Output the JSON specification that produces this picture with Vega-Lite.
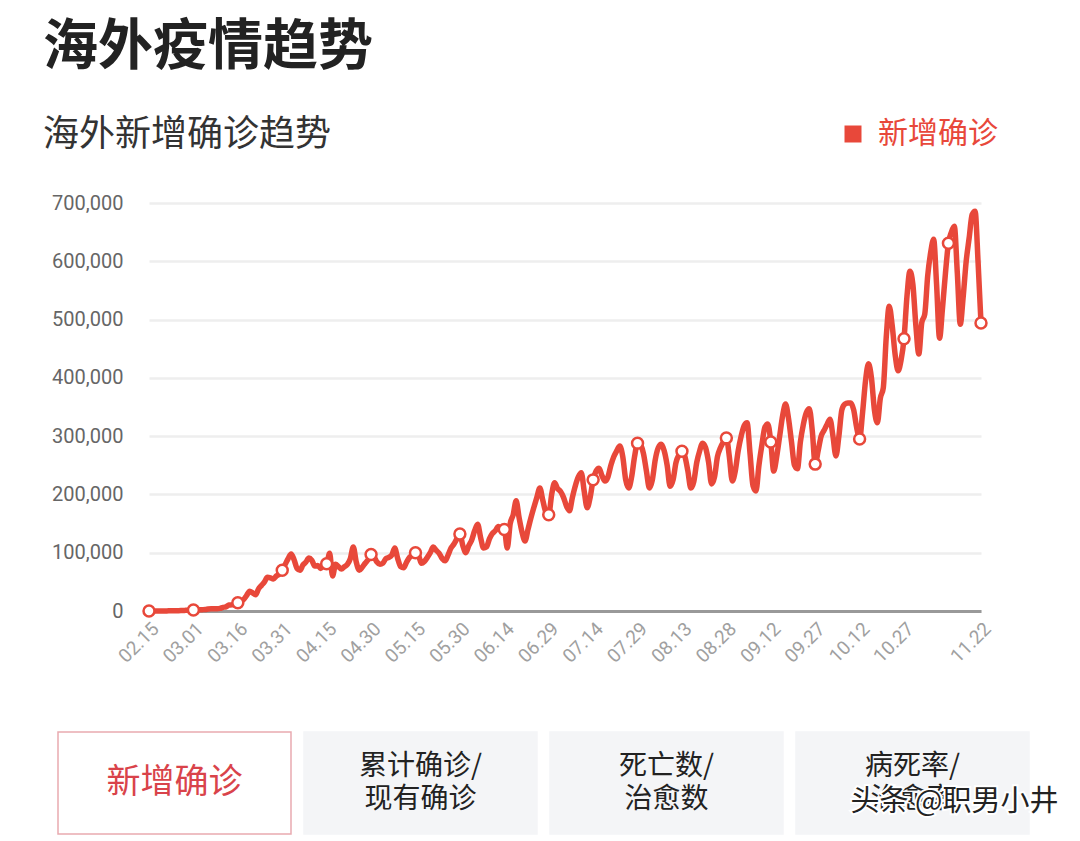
{
  "$schema": "https://vega.github.io/schema/vega-lite/v6.json",
  "background": "white",
  "padding": {"left": 43, "top": 20, "right": 0, "bottom": 0},
  "autosize": {"type": "pad"},
  "title": {
    "text": "海外疫情趋势",
    "subtitle": "海外新增确诊趋势",
    "anchor": "start",
    "frame": "bounds",
    "font": "Noto Sans CJK SC",
    "fontSize": 55,
    "fontWeight": "bold",
    "color": "#222222",
    "subtitleFont": "Noto Sans CJK SC",
    "subtitleFontSize": 36,
    "subtitleColor": "#333333",
    "subtitleFontWeight": "normal",
    "subtitlePadding": 42,
    "offset": -35,
    "dx": -4
  },
  "datasets": {
    "cases": [
      {"date":"2020-02-15","cases":60},{"date":"2020-02-16","cases":80},{"date":"2020-02-17","cases":70},{"date":"2020-02-18","cases":110},{"date":"2020-02-19","cases":120},{"date":"2020-02-20","cases":150},{"date":"2020-02-21","cases":210},{"date":"2020-02-22","cases":290},{"date":"2020-02-23","cases":380},{"date":"2020-02-24","cases":420},{"date":"2020-02-25","cases":560},{"date":"2020-02-26","cases":780},{"date":"2020-02-27","cases":980},{"date":"2020-02-28","cases":1250},{"date":"2020-02-29","cases":1300},
      {"date":"2020-03-01","cases":1600},{"date":"2020-03-02","cases":1800},{"date":"2020-03-03","cases":2100},{"date":"2020-03-04","cases":2300},{"date":"2020-03-05","cases":2600},{"date":"2020-03-06","cases":3500},{"date":"2020-03-07","cases":3900},{"date":"2020-03-08","cases":3800},{"date":"2020-03-09","cases":3900},{"date":"2020-03-10","cases":4600},{"date":"2020-03-11","cases":6300},{"date":"2020-03-12","cases":7200},{"date":"2020-03-13","cases":10200},{"date":"2020-03-14","cases":10500},{"date":"2020-03-15","cases":11500},{"date":"2020-03-16","cases":14000},{"date":"2020-03-17","cases":16500},{"date":"2020-03-18","cases":20000},{"date":"2020-03-19","cases":27000},{"date":"2020-03-20","cases":34000},{"date":"2020-03-21","cases":31000},{"date":"2020-03-22","cases":28000},{"date":"2020-03-23","cases":38000},{"date":"2020-03-24","cases":44000},{"date":"2020-03-25","cases":50000},{"date":"2020-03-26","cases":58000},{"date":"2020-03-27","cases":57000},{"date":"2020-03-28","cases":55000},{"date":"2020-03-29","cases":60000},{"date":"2020-03-30","cases":63000},{"date":"2020-03-31","cases":70000},
      {"date":"2020-04-01","cases":80000},{"date":"2020-04-02","cases":90000},{"date":"2020-04-03","cases":98000},{"date":"2020-04-04","cases":88000},{"date":"2020-04-05","cases":73000},{"date":"2020-04-06","cases":70000},{"date":"2020-04-07","cases":79000},{"date":"2020-04-08","cases":84000},{"date":"2020-04-09","cases":91000},{"date":"2020-04-10","cases":87000},{"date":"2020-04-11","cases":77000},{"date":"2020-04-12","cases":78000},{"date":"2020-04-13","cases":73000},{"date":"2020-04-14","cases":79000},{"date":"2020-04-15","cases":81000},{"date":"2020-04-16","cases":99000},{"date":"2020-04-17","cases":60000},{"date":"2020-04-18","cases":80000},{"date":"2020-04-19","cases":76000},{"date":"2020-04-20","cases":72000},{"date":"2020-04-21","cases":76000},{"date":"2020-04-22","cases":80000},{"date":"2020-04-23","cases":90000},{"date":"2020-04-24","cases":110000},{"date":"2020-04-25","cases":84000},{"date":"2020-04-26","cases":70000},{"date":"2020-04-27","cases":75000},{"date":"2020-04-28","cases":82000},{"date":"2020-04-29","cases":88000},{"date":"2020-04-30","cases":97000},
      {"date":"2020-05-01","cases":93000},{"date":"2020-05-02","cases":84000},{"date":"2020-05-03","cases":80000},{"date":"2020-05-04","cases":82000},{"date":"2020-05-05","cases":90000},{"date":"2020-05-06","cases":92000},{"date":"2020-05-07","cases":96000},{"date":"2020-05-08","cases":108000},{"date":"2020-05-09","cases":90000},{"date":"2020-05-10","cases":76000},{"date":"2020-05-11","cases":74000},{"date":"2020-05-12","cases":84000},{"date":"2020-05-13","cases":92000},{"date":"2020-05-14","cases":96000},{"date":"2020-05-15","cases":100000},{"date":"2020-05-16","cases":96000},{"date":"2020-05-17","cases":82000},{"date":"2020-05-18","cases":85000},{"date":"2020-05-19","cases":92000},{"date":"2020-05-20","cases":100000},{"date":"2020-05-21","cases":110000},{"date":"2020-05-22","cases":104000},{"date":"2020-05-23","cases":99000},{"date":"2020-05-24","cases":90000},{"date":"2020-05-25","cases":86000},{"date":"2020-05-26","cases":96000},{"date":"2020-05-27","cases":108000},{"date":"2020-05-28","cases":115000},{"date":"2020-05-29","cases":124000},{"date":"2020-05-30","cases":132000},{"date":"2020-05-31","cases":112000},
      {"date":"2020-06-01","cases":100000},{"date":"2020-06-02","cases":112000},{"date":"2020-06-03","cases":122000},{"date":"2020-06-04","cases":138000},{"date":"2020-06-05","cases":149000},{"date":"2020-06-06","cases":126000},{"date":"2020-06-07","cases":108000},{"date":"2020-06-08","cases":110000},{"date":"2020-06-09","cases":124000},{"date":"2020-06-10","cases":133000},{"date":"2020-06-11","cases":138000},{"date":"2020-06-12","cases":145000},{"date":"2020-06-13","cases":138000},{"date":"2020-06-14","cases":140000},{"date":"2020-06-15","cases":108000},{"date":"2020-06-16","cases":150000},{"date":"2020-06-17","cases":165000},{"date":"2020-06-18","cases":189000},{"date":"2020-06-19","cases":160000},{"date":"2020-06-20","cases":135000},{"date":"2020-06-21","cases":120000},{"date":"2020-06-22","cases":140000},{"date":"2020-06-23","cases":160000},{"date":"2020-06-24","cases":178000},{"date":"2020-06-25","cases":195000},{"date":"2020-06-26","cases":211000},{"date":"2020-06-27","cases":190000},{"date":"2020-06-28","cases":170000},{"date":"2020-06-29","cases":165000},{"date":"2020-06-30","cases":200000},
      {"date":"2020-07-01","cases":220000},{"date":"2020-07-02","cases":210000},{"date":"2020-07-03","cases":205000},{"date":"2020-07-04","cases":195000},{"date":"2020-07-05","cases":180000},{"date":"2020-07-06","cases":172000},{"date":"2020-07-07","cases":195000},{"date":"2020-07-08","cases":215000},{"date":"2020-07-09","cases":230000},{"date":"2020-07-10","cases":237000},{"date":"2020-07-11","cases":205000},{"date":"2020-07-12","cases":177000},{"date":"2020-07-13","cases":195000},{"date":"2020-07-14","cases":225000},{"date":"2020-07-15","cases":240000},{"date":"2020-07-16","cases":245000},{"date":"2020-07-17","cases":232000},{"date":"2020-07-18","cases":223000},{"date":"2020-07-19","cases":230000},{"date":"2020-07-20","cases":250000},{"date":"2020-07-21","cases":265000},{"date":"2020-07-22","cases":275000},{"date":"2020-07-23","cases":283000},{"date":"2020-07-24","cases":265000},{"date":"2020-07-25","cases":225000},{"date":"2020-07-26","cases":211000},{"date":"2020-07-27","cases":230000},{"date":"2020-07-28","cases":265000},{"date":"2020-07-29","cases":288000},{"date":"2020-07-30","cases":285000},{"date":"2020-07-31","cases":270000},
      {"date":"2020-08-01","cases":240000},{"date":"2020-08-02","cases":211000},{"date":"2020-08-03","cases":225000},{"date":"2020-08-04","cases":260000},{"date":"2020-08-05","cases":280000},{"date":"2020-08-06","cases":286000},{"date":"2020-08-07","cases":275000},{"date":"2020-08-08","cases":250000},{"date":"2020-08-09","cases":214000},{"date":"2020-08-10","cases":225000},{"date":"2020-08-11","cases":255000},{"date":"2020-08-12","cases":268000},{"date":"2020-08-13","cases":274000},{"date":"2020-08-14","cases":265000},{"date":"2020-08-15","cases":240000},{"date":"2020-08-16","cases":211000},{"date":"2020-08-17","cases":222000},{"date":"2020-08-18","cases":255000},{"date":"2020-08-19","cases":275000},{"date":"2020-08-20","cases":288000},{"date":"2020-08-21","cases":280000},{"date":"2020-08-22","cases":255000},{"date":"2020-08-23","cases":218000},{"date":"2020-08-24","cases":230000},{"date":"2020-08-25","cases":265000},{"date":"2020-08-26","cases":280000},{"date":"2020-08-27","cases":290000},{"date":"2020-08-28","cases":297000},{"date":"2020-08-29","cases":265000},{"date":"2020-08-30","cases":223000},{"date":"2020-08-31","cases":240000},
      {"date":"2020-09-01","cases":275000},{"date":"2020-09-02","cases":300000},{"date":"2020-09-03","cases":318000},{"date":"2020-09-04","cases":323000},{"date":"2020-09-05","cases":270000},{"date":"2020-09-06","cases":215000},{"date":"2020-09-07","cases":206000},{"date":"2020-09-08","cases":250000},{"date":"2020-09-09","cases":285000},{"date":"2020-09-10","cases":315000},{"date":"2020-09-11","cases":321000},{"date":"2020-09-12","cases":290000},{"date":"2020-09-13","cases":240000},{"date":"2020-09-14","cases":265000},{"date":"2020-09-15","cases":300000},{"date":"2020-09-16","cases":335000},{"date":"2020-09-17","cases":355000},{"date":"2020-09-18","cases":330000},{"date":"2020-09-19","cases":290000},{"date":"2020-09-20","cases":250000},{"date":"2020-09-21","cases":244000},{"date":"2020-09-22","cases":290000},{"date":"2020-09-23","cases":320000},{"date":"2020-09-24","cases":340000},{"date":"2020-09-25","cases":347000},{"date":"2020-09-26","cases":310000},{"date":"2020-09-27","cases":252000},{"date":"2020-09-28","cases":275000},{"date":"2020-09-29","cases":300000},{"date":"2020-09-30","cases":310000},
      {"date":"2020-10-01","cases":320000},{"date":"2020-10-02","cases":329000},{"date":"2020-10-03","cases":300000},{"date":"2020-10-04","cases":266000},{"date":"2020-10-05","cases":300000},{"date":"2020-10-06","cases":345000},{"date":"2020-10-07","cases":355000},{"date":"2020-10-08","cases":357000},{"date":"2020-10-09","cases":357000},{"date":"2020-10-10","cases":345000},{"date":"2020-10-11","cases":315000},{"date":"2020-10-12","cases":295000},{"date":"2020-10-13","cases":340000},{"date":"2020-10-14","cases":395000},{"date":"2020-10-15","cases":424000},{"date":"2020-10-16","cases":400000},{"date":"2020-10-17","cases":345000},{"date":"2020-10-18","cases":323000},{"date":"2020-10-19","cases":365000},{"date":"2020-10-20","cases":383000},{"date":"2020-10-21","cases":470000},{"date":"2020-10-22","cases":523000},{"date":"2020-10-23","cases":490000},{"date":"2020-10-24","cases":440000},{"date":"2020-10-25","cases":412000},{"date":"2020-10-26","cases":430000},{"date":"2020-10-27","cases":467000},{"date":"2020-10-28","cases":540000},{"date":"2020-10-29","cases":583000},{"date":"2020-10-30","cases":560000},{"date":"2020-10-31","cases":490000},
      {"date":"2020-11-01","cases":441000},{"date":"2020-11-02","cases":495000},{"date":"2020-11-03","cases":509000},{"date":"2020-11-04","cases":575000},{"date":"2020-11-05","cases":615000},{"date":"2020-11-06","cases":638000},{"date":"2020-11-07","cases":560000},{"date":"2020-11-08","cases":468000},{"date":"2020-11-09","cases":520000},{"date":"2020-11-10","cases":580000},{"date":"2020-11-11","cases":631000},{"date":"2020-11-12","cases":650000},{"date":"2020-11-13","cases":660000},{"date":"2020-11-14","cases":580000},{"date":"2020-11-15","cases":492000},{"date":"2020-11-16","cases":540000},{"date":"2020-11-17","cases":600000},{"date":"2020-11-18","cases":640000},{"date":"2020-11-19","cases":680000},{"date":"2020-11-20","cases":686000},{"date":"2020-11-21","cases":600000},{"date":"2020-11-22","cases":494000}
    ],
    "buttons": [
      {"label": "新增确诊", "state": "选中"},
      {"label": "累计确诊/|现有确诊", "state": "未选中"},
      {"label": "死亡数/|治愈数", "state": "未选中"},
      {"label": "病死率/|治愈率", "state": "未选中"}
    ],
    "watermark": [
      {"label": "病死率/|治愈率", "text": "头条 @职男小井"}
    ]
  },
  "vconcat": [
    {
      "width": 832,
      "height": 408,
      "data": {"name": "cases"},
      "encoding": {
        "x": {
          "field": "date",
          "type": "temporal",
          "scale": {
            "type": "utc",
            "nice": false,
            "domain": [
              {"year": 2020, "month": 2, "date": 15, "utc": true},
              {"year": 2020, "month": 11, "date": 22, "utc": true}
            ]
          },
          "axis": {
            "title": null,
            "values": [
              {"year": 2020, "month": 2, "date": 15, "utc": true},
              {"year": 2020, "month": 3, "date": 1, "utc": true},
              {"year": 2020, "month": 3, "date": 16, "utc": true},
              {"year": 2020, "month": 3, "date": 31, "utc": true},
              {"year": 2020, "month": 4, "date": 15, "utc": true},
              {"year": 2020, "month": 4, "date": 30, "utc": true},
              {"year": 2020, "month": 5, "date": 15, "utc": true},
              {"year": 2020, "month": 5, "date": 30, "utc": true},
              {"year": 2020, "month": 6, "date": 14, "utc": true},
              {"year": 2020, "month": 6, "date": 29, "utc": true},
              {"year": 2020, "month": 7, "date": 14, "utc": true},
              {"year": 2020, "month": 7, "date": 29, "utc": true},
              {"year": 2020, "month": 8, "date": 13, "utc": true},
              {"year": 2020, "month": 8, "date": 28, "utc": true},
              {"year": 2020, "month": 9, "date": 12, "utc": true},
              {"year": 2020, "month": 9, "date": 27, "utc": true},
              {"year": 2020, "month": 10, "date": 12, "utc": true},
              {"year": 2020, "month": 10, "date": 27, "utc": true},
              {"year": 2020, "month": 11, "date": 22, "utc": true}
            ],
            "labelExpr": "utcFormat(datum.value, '%m.%d')",
            "labelAngle": -45,
            "labelFont": "Roboto",
            "labelFontSize": 19,
            "labelColor": "#a0a0a0",
            "labelOverlap": false,
            "labelPadding": 8,
            "ticks": false,
            "grid": false,
            "domainColor": "#999999",
            "domainWidth": 3
          }
        },
        "y": {
          "field": "cases",
          "type": "quantitative",
          "scale": {"domain": [0, 700000], "nice": false},
          "axis": {
            "title": null,
            "values": [0, 100000, 200000, 300000, 400000, 500000, 600000, 700000],
            "format": ",d",
            "domain": false,
            "ticks": false,
            "labelFont": "Roboto",
            "labelFontSize": 20,
            "labelColor": "#666666",
            "labelPadding": 26,
            "gridColor": "#eeeeee",
            "gridWidth": 2.5,
            "minExtent": 102,
            "maxExtent": 102
          }
        }
      },
      "layer": [
        {
          "mark": {"type": "line", "interpolate": "monotone", "strokeWidth": 5.5, "strokeJoin": "round", "strokeCap": "round"},
          "encoding": {
            "color": {
              "datum": "新增确诊",
              "type": "nominal",
              "scale": {"domain": ["新增确诊"], "range": ["#e8483a"]},
              "legend": {
                "title": null,
                "orient": "none",
                "legendX": 689,
                "legendY": -84,
                "padding": 0,
                "symbolType": "square",
                "symbolSize": 289,
                "labelFont": "Noto Sans CJK SC",
                "labelFontSize": 30,
                "labelColor": "#e8483a",
                "labelOffset": 10,
                "encode": {
                  "symbols": {"update": {"fill": {"value": "#e8483a"}, "stroke": {"value": "#e8483a"}, "strokeWidth": {"value": 0}}}
                }
              }
            }
          }
        },
        {
          "transform": [
            {"filter": "indexof(['02-15','03-01','03-16','03-31','04-15','04-30','05-15','05-30','06-14','06-29','07-14','07-29','08-13','08-28','09-12','09-27','10-12','10-27','11-11','11-22'], utcFormat(toDate(datum.date), '%m-%d')) >= 0"}
          ],
          "mark": {"type": "point", "filled": true, "fill": "#ffffff", "stroke": "#e8483a", "strokeWidth": 2.5, "size": 120, "opacity": 1}
        }
      ]
    },
    {
      "width": 832,
      "height": 102,
      "encoding": {
        "x": {
          "field": "label",
          "type": "nominal",
          "sort": null,
          "axis": null,
          "scale": {"domain": ["新增确诊", "累计确诊/|现有确诊", "死亡数/|治愈数", "病死率/|治愈率"], "range": [-91, 880], "paddingInner": 0.05285, "paddingOuter": 0}
        }
      },
      "layer": [
        {
          "data": {"name": "buttons"},
          "mark": {"type": "rect", "strokeWidth": 1.5},
          "encoding": {
            "fill": {"field": "state", "type": "nominal", "scale": {"domain": ["选中", "未选中"], "range": ["#ffffff", "#f4f5f7"]}, "legend": null},
            "stroke": {"field": "state", "type": "nominal", "scale": {"domain": ["选中", "未选中"], "range": ["#e9aab0", "#f4f5f7"]}, "legend": null}
          }
        },
        {
          "data": {"name": "buttons"},
          "transform": [{"filter": "datum.state === '选中'"}],
          "mark": {"type": "text", "font": "Noto Sans CJK SC", "fontSize": 34, "baseline": "middle", "color": "#d9434a"},
          "encoding": {"text": {"field": "label"}}
        },
        {
          "data": {"name": "buttons"},
          "transform": [{"filter": "datum.state === '未选中'"}],
          "mark": {"type": "text", "font": "Noto Sans CJK SC", "fontSize": 28, "lineBreak": "|", "lineHeight": 33, "baseline": "middle", "dy": -16, "color": "#222222"},
          "encoding": {"text": {"field": "label"}}
        },
        {
          "data": {"name": "watermark"},
          "mark": {"type": "text", "font": "Noto Sans CJK SC", "fontSize": 29, "dx": 42, "dy": 19, "color": "#ffffff", "stroke": "#ffffff", "strokeWidth": 4},
          "encoding": {"text": {"field": "text"}}
        },
        {
          "data": {"name": "watermark"},
          "mark": {"type": "text", "font": "Noto Sans CJK SC", "fontSize": 29, "dx": 42, "dy": 19, "color": "#222222"},
          "encoding": {"text": {"field": "text"}}
        }
      ],
      "resolve": {"scale": {"color": "independent"}}
    }
  ],
  "spacing": 64,
  "align": "none",
  "resolve": {"scale": {"color": "independent"}, "legend": {"color": "independent"}},
  "config": {
    "view": {"stroke": null},
    "font": "Noto Sans CJK SC"
  }
}
